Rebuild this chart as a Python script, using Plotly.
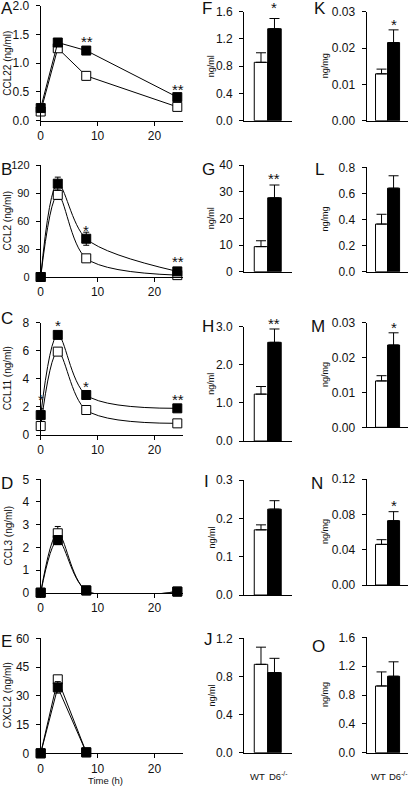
import plotly.graph_objects as go

W, H = 409, 790
FONT = "Liberation Sans, Arial, sans-serif"

# ---------------- data ----------------
times = [0, 3, 8, 24]
times_e = [0, 3, 8]

ccl22_wt = [0.16, 1.26, 0.78, 0.24]
ccl22_wt_err = [0.02, 0.04, 0.07, 0.03]
ccl22_d6 = [0.22, 1.36, 1.22, 0.41]
ccl22_d6_err = [0.03, 0.04, 0.05, 0.04]

ccl2_wt = [0, 88, 20, 2]
ccl2_wt_err = [0, 5, 2, 1]
ccl2_d6 = [0, 100, 41, 6]
ccl2_d6_err = [0, 7, 7, 2]

ccl11_wt = [0.64, 5.94, 1.78, 0.83]
ccl11_wt_err = [0.1, 0.2, 0.15, 0.08]
ccl11_d6 = [1.42, 7.13, 2.85, 1.9]
ccl11_d6_err = [0.45, 0.2, 0.2, 0.1]

ccl3_wt = [0, 2.62, 0.1, 0.05]
ccl3_wt_err = [0, 0.3, 0.05, 0.02]
ccl3_d6 = [0, 2.32, 0.1, 0.05]
ccl3_d6_err = [0, 0.2, 0.05, 0.02]

cxcl2_wt = [0, 38.6, 0.5]
cxcl2_wt_err = [0, 2, 0.5]
cxcl2_d6 = [0, 34.4, 0.5]
cxcl2_d6_err = [0, 3, 0.5]

groups = ["WT", "D6<sup>-/-</sup>"]

# serum (ng/ml) bars F-J: [WT, D6], errors
serum_F = [0.857, 1.35];   serum_F_err = [0.14, 0.15]
serum_G = [9.4, 27.7];     serum_G_err = [2.2, 4.8]
serum_H = [1.23, 2.59];    serum_H_err = [0.20, 0.35]
serum_I = [0.17, 0.224];   serum_I_err = [0.013, 0.022]
serum_J = [0.927, 0.84];   serum_J_err = [0.18, 0.15]

# tissue (ng/mg) bars K-O
tissue_K = [0.0129, 0.0215]; tissue_K_err = [0.0013, 0.0035]
tissue_L = [0.365, 0.64];    tissue_L_err = [0.075, 0.095]
tissue_M = [0.0133, 0.0236]; tissue_M_err = [0.0015, 0.0035]
tissue_N = [0.046, 0.0728];  tissue_N_err = [0.0053, 0.0102]
tissue_O = [0.925, 1.06];    tissue_O_err = [0.195, 0.2]

line_titles = ["CCL22 (ng/ml)", "CCL2 (ng/ml)", "CCL11 (ng/ml)", "CCL3 (ng/ml)", "CXCL2 (ng/ml)"]

# ---------------- layout geometry (pixels) ----------------
left_x = (40.7, 183.0)
mid_x = (244.0, 292.0)
right_x = (366.5, 408.0)

left_y = [(5.7, 120.7), (165.0, 277.0), (322.7, 435.0), (479.3, 592.7), (638.3, 753.3)]
mid_y = [(11.7, 120.7), (165.0, 271.7), (326.7, 441.0), (480.0, 595.0), (638.3, 752.7)]
right_y = [(11.7, 120.7), (167.3, 271.7), (322.7, 427.3), (479.0, 585.0), (637.3, 752.7)]


def xd(a, b):
    return [a / W, b / W]


def yd(top, bot):
    return [1 - bot / H, 1 - top / H]


fig = go.Figure()
layout = dict(width=W, height=H, margin=dict(l=0, r=0, t=0, b=0),
              paper_bgcolor="white", plot_bgcolor="white", showlegend=False,
              font=dict(family=FONT, size=12, color="#111"))
annotations = []

axis_common = dict(showline=True, linecolor="black", linewidth=1, showgrid=False,
                   zeroline=False, ticks="outside", tickcolor="black", ticklen=4,
                   tickwidth=1, tickangle=0, automargin=False,
                   tickfont=dict(family=FONT, size=12, color="#111"))


def ax_name(i, kind):
    return f"{kind}axis" if i == 1 else f"{kind}axis{i}"


def ref(i, kind):
    return kind if i == 1 else f"{kind}{i}"


yranges = {}

# ---------------- line panels A-E ----------------
line_sets = [
    (times, ccl22_wt, ccl22_wt_err, ccl22_d6, ccl22_d6_err, [0, 2], 0.5, ".1f", "linear"),
    (times, ccl2_wt, ccl2_wt_err, ccl2_d6, ccl2_d6_err, [0, 120], 30, "d", "spline"),
    (times, ccl11_wt, ccl11_wt_err, ccl11_d6, ccl11_d6_err, [0, 8], 2, "d", "spline"),
    (times, ccl3_wt, ccl3_wt_err, ccl3_d6, ccl3_d6_err, [0, 5], 1, "d", "spline"),
    (times_e, cxcl2_wt, cxcl2_wt_err, cxcl2_d6, cxcl2_d6_err, [0, 60], 15, "d", "linear"),
]

for k, (t, wt, wte, d6, d6e, yr, dt, fmt, shape) in enumerate(line_sets):
    i = k + 1
    yranges[i] = yr
    for vals, errs, fill in ((wt, wte, "white"), (d6, d6e, "black")):
        fig.add_trace(go.Scatter(
            x=t, y=vals, mode="lines+markers", xaxis=ref(i, "x"), yaxis=ref(i, "y"),
            line=dict(color="black", width=1, shape=shape, smoothing=0.9),
            marker=dict(symbol="square", size=9, color=fill, line=dict(color="black", width=1)),
            error_y=dict(type="data", array=errs, color="black", thickness=1, width=3),
            cliponaxis=False))
    layout[ax_name(i, "x")] = dict(axis_common, domain=xd(*left_x), range=[0, 25],
                                   tickvals=[0, 10, 20], anchor=ref(i, "y"))
    layout[ax_name(i, "y")] = dict(axis_common, domain=yd(*left_y[k]), range=yr, dtick=dt,
                                   tickformat=fmt, anchor=ref(i, "x"), ticklabelstandoff=4,
                                   tickfont=dict(family=FONT, size=11 if yr[1] >= 100 else 12,
                                                 color="#111"))
    top, bot = left_y[k]
    annotations.append(dict(text=line_titles[k], xref="paper", yref="paper",
                            x=7.5 / W, y=1 - (top + bot) / 2 / H, textangle=-90,
                            showarrow=False, font=dict(size=10, family=FONT, color="#111"),
                            xanchor="center", yanchor="middle"))

annotations.append(dict(text="Time (h)", xref="paper", yref="paper", x=106 / W, y=1 - 780 / H,
                        showarrow=False, font=dict(size=9.5, family=FONT, color="#111"),
                        xanchor="center", yanchor="middle"))

# ---------------- bar panels ----------------
bar_sets = [
    (serum_F, serum_F_err, [0, 1.6], 0.4, ".1f", "ng/ml"),
    (serum_G, serum_G_err, [0, 40], 10, "d", "ng/ml"),
    (serum_H, serum_H_err, [0, 3], 1, ".1f", "ng/ml"),
    (serum_I, serum_I_err, [0, 0.3], 0.1, ".1f", "ng/ml"),
    (serum_J, serum_J_err, [0, 1.2], 0.4, ".1f", "ng/ml"),
    (tissue_K, tissue_K_err, [0, 0.03], 0.01, ".2f", "ng/mg"),
    (tissue_L, tissue_L_err, [0, 0.8], 0.2, ".1f", "ng/mg"),
    (tissue_M, tissue_M_err, [0, 0.03], 0.01, ".2f", "ng/mg"),
    (tissue_N, tissue_N_err, [0, 0.12], 0.04, ".2f", "ng/mg"),
    (tissue_O, tissue_O_err, [0, 1.6], 0.4, ".1f", "ng/mg"),
]

for k, (vals, errs, yr, dt, fmt, unit) in enumerate(bar_sets):
    i = k + 6
    yranges[i] = yr
    mid = k < 5
    row = k % 5
    xdom = mid_x if mid else right_x
    ydom = (mid_y if mid else right_y)[row]
    xr = [-1.26, 2.3] if mid else [-1.25, 2.2]
    fig.add_trace(go.Bar(
        x=[0, 1], y=vals, width=1, xaxis=ref(i, "x"), yaxis=ref(i, "y"),
        marker=dict(color=["white", "black"], line=dict(color="black", width=1)),
        error_y=dict(type="data", array=errs, arrayminus=[0, 0], symmetric=False,
                     color="black", thickness=1, width=5)))
    layout[ax_name(i, "x")] = dict(axis_common, domain=xd(*xdom), range=xr, ticks="",
                                   showticklabels=False, anchor=ref(i, "y"))
    layout[ax_name(i, "y")] = dict(axis_common, domain=yd(*ydom), range=yr, dtick=dt,
                                   tickformat=fmt, anchor=ref(i, "x"),
                                   ticklabelstandoff=4)
    top, bot = ydom
    annotations.append(dict(text=unit, xref="paper", yref="paper",
                            x=(211 if mid else 325) / W, y=1 - (top + bot) / 2 / H,
                            textangle=-90, showarrow=False,
                            font=dict(size=9, family=FONT, color="#111"),
                            xanchor="center", yanchor="middle"))
    if row == 4:
        # group labels under the bottom bar panels
        for gx, gtxt, anc in ((-0.25, groups[0], "center"), (0.45, groups[1], "left")):
            annotations.append(dict(text=gtxt, xref=ref(i, "x"), yref=ref(i, "y") + " domain",
                                    x=gx, y=-(776 - bot) / (bot - top), showarrow=False,
                                    font=dict(size=9.5, family=FONT, color="#111"),
                                    xanchor=anc, yanchor="middle"))

# ---------------- panel letters ----------------
letters = [("A", 6.5, 9), ("B", 6, 169), ("C", 6.5, 319), ("D", 6.5, 483), ("E", 6.5, 641),
           ("F", 207, 9), ("G", 208, 169), ("H", 208, 326), ("I", 206, 481), ("J", 208, 639),
           ("K", 320, 9), ("L", 319, 169), ("M", 318, 326), ("N", 317, 483), ("O", 318, 646)]
for txt, px, py in letters:
    annotations.append(dict(text=txt, xref="paper", yref="paper", x=px / W, y=1 - py / H,
                            showarrow=False, font=dict(size=17, family=FONT, color="#111"),
                            xanchor="center", yanchor="middle"))

# ---------------- significance stars ----------------
stars = [(1, 8.07, 1.43, "**"), (1, 24.1, 0.60, "**"),
         (2, 8, 53, "*"), (2, 24.1, 20, "**"),
         (3, 0, 2.75, "*"), (3, 3, 8.0, "*"), (3, 8, 3.68, "*"), (3, 24.1, 2.73, "**"),
         (6, 1, 1.70, "*"), (7, 1, 35.9, "**"), (8, 1, 3.16, "**"),
         (11, 1, 0.0272, "*"), (13, 1, 0.0296, "*"), (14, 1, 0.0932, "*")]
for i, sx, sy, txt in stars:
    annotations.append(dict(text=txt, xref=ref(i, "x"), yref=ref(i, "y") + " domain",
                            x=sx, y=sy / yranges[i][1],
                            showarrow=False, font=dict(size=15, family=FONT, color="#111"),
                            xanchor="center", yanchor="middle", yshift=-3))

layout["annotations"] = annotations
fig.update_layout(**layout)
fig.write_html("out.html", config={"displayModeBar": False},
               post_script="document.body.style.margin='0';document.body.style.padding='0';"
                           "document.body.style.overflow='hidden';")
